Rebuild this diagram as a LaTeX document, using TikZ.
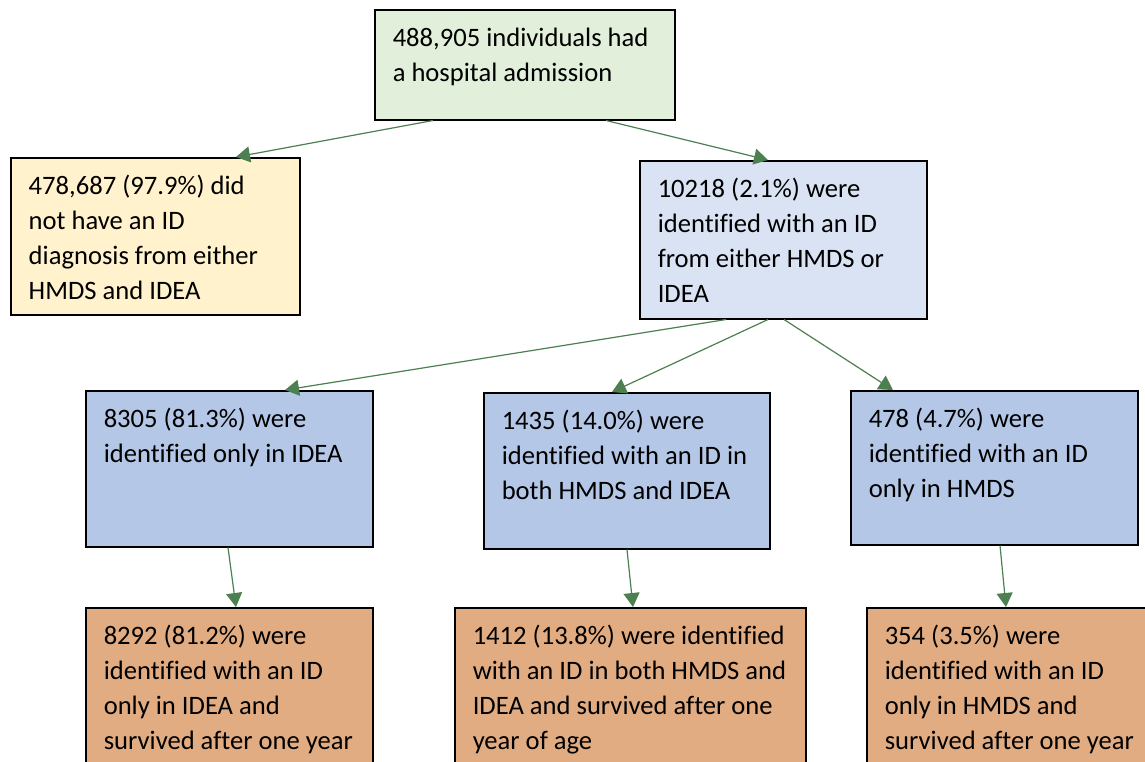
\documentclass[tikz,border=0pt]{standalone}
\usepackage{fontspec}
\setmainfont{Carlito}[Ligatures=NoCommon]
\usepackage{xcolor}
\usetikzlibrary{arrows.meta}
\definecolor{admgreen}{RGB}{226,239,218}
\definecolor{noidyellow}{RGB}{255,242,204}
\definecolor{idblue}{RGB}{218,227,243}
\definecolor{subblue}{RGB}{180,199,231}
\definecolor{survorange}{RGB}{226,172,130}
\definecolor{arrowgreen}{RGB}{76,128,80}
\tikzset{
  box/.style={draw=black, line width=0.75pt, anchor=north west, inner xsep=9pt, inner ysep=6pt},
  flow/.style={draw=arrowgreen, line width=0.6pt, -{Triangle[length=7pt,width=8pt]}}
}
\newcommand{\boxtext}[3]{\parbox[t][#1][t]{#2}{\begin{tabular}[t]{@{}l@{}}#3\end{tabular}}}

\begin{document}
\begin{tikzpicture}[x=0.5pt,y=-0.5pt]
\fill[white] (0,0) rectangle (1145,761);
\clip (0,0) rectangle (1145,761);
\begin{scope}[every node/.style={box}, font=\fontsize{13.3}{17.5}\selectfont]
  \node[fill=admgreen] (adm) at (374,9) {\boxtext{43pt}{132pt}{488,905 individuals had\\ a hospital admission}};
  \node[fill=noidyellow] (noid) at (10,157) {\boxtext{66.5pt}{126.5pt}{478,687 (97.9\%) did\\ not have an ID\\ diagnosis from either\\ HMDS and IDEA}};
  \node[fill=idblue] (idany) at (639,160) {\boxtext{67pt}{125.5pt}{10218 (2.1\%) were\\ identified with an ID\\ from either HMDS or\\ IDEA}};
  \node[fill=subblue] (idea) at (85,390) {\boxtext{66pt}{125.5pt}{8305 (81.3\%) were\\ identified only in IDEA}};
  \node[fill=subblue] (both) at (483,392) {\boxtext{66pt}{125pt}{1435 (14.0\%) were\\ identified with an ID in\\ both HMDS and IDEA}};
  \node[fill=subblue] (hmds) at (850,390) {\boxtext{65pt}{125.5pt}{478 (4.7\%) were\\ identified with an ID\\ only in HMDS}};
  \node[fill=survorange] (sidea) at (85,607) {\boxtext{70pt}{125.5pt}{8292 (81.2\%) were\\ identified with an ID\\ only in IDEA and\\ survived after one year}};
  \node[fill=survorange] (sboth) at (454,607) {\boxtext{70pt}{157.5pt}{1412 (13.8\%) were identified\\ with an ID in both HMDS and\\ IDEA and survived after one\\ year of age}};
  \node[fill=survorange] (shmds) at (866,607) {\boxtext{70pt}{127pt}{354 (3.5\%) were\\ identified with an ID\\ only in HMDS and\\ survived after one year}};
\end{scope}
\draw[flow] ([xshift=29.5pt]adm.south west) -- ([xshift=113pt]noid.north west);
\draw[flow] ([xshift=116pt]adm.south west) -- ([xshift=64.5pt]idany.north west);
\draw[flow] ([xshift=43.5pt]idany.south west) -- ([xshift=100pt]idea.north west);
\draw[flow] ([xshift=64.5pt]idany.south west) -- ([xshift=64.5pt]both.north west);
\draw[flow] ([xshift=72.5pt]idany.south west) -- ([xshift=21.5pt]hmds.north west);
\draw[flow] ([xshift=71.5pt]idea.south west) -- ([xshift=75.5pt]sidea.north west);
\draw[flow] ([xshift=72pt]both.south west) -- ([xshift=89.5pt]sboth.north west);
\draw[flow] ([xshift=75pt]hmds.south west) -- ([xshift=70pt]shmds.north west);
\end{tikzpicture}
\end{document}
